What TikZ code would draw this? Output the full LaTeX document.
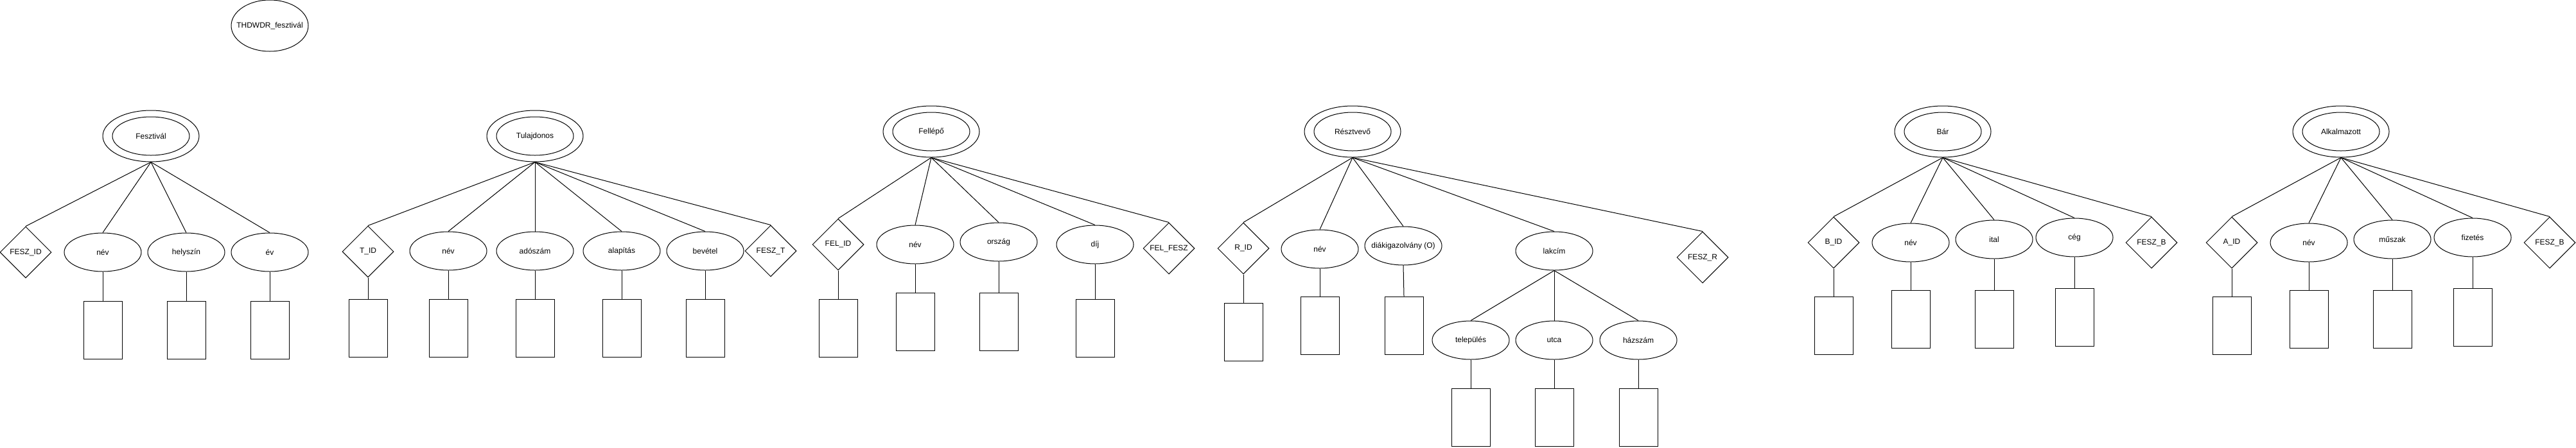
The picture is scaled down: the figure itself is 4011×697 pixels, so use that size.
\documentclass[tikz,border=0pt]{standalone}
\usepackage{fontspec}
\setmainfont{Liberation Sans}
\usetikzlibrary{shapes.geometric}
\tikzstyle{every path}=[line width=1pt]
\tikzstyle{every node}=[font=\fontsize{12}{14}\selectfont]
\tikzstyle{entity}=[draw, ellipse, minimum width=150pt, minimum height=80pt]
\tikzstyle{entityname}=[draw, ellipse, minimum width=120pt, minimum height=60pt, inner sep=0pt]
\tikzstyle{attribute}=[draw, ellipse, minimum width=120pt, minimum height=60pt, inner sep=0pt]
\tikzstyle{keyattr}=[draw, diamond, aspect=1, minimum width=80pt, minimum height=80pt, inner sep=0pt]
\tikzstyle{valuebox}=[draw, rectangle, minimum width=60pt, minimum height=90pt]

\begin{document}
\begin{tikzpicture}[x=1pt, y=-1pt]
            \useasboundingbox (0, 0) rectangle (4011, 697);
            \node[attribute, minimum height=80pt] (title) at (420, 40) {\makebox[0pt]{THDWDR\_fesztivál}};

            \node[entity] (fesztival) at (235, 212) {};
            \node[entityname] (fesztivalname) at (235, 212) {Fesztivál};
            \node[keyattr] (feszid) at (40, 393) {FESZ\_ID};
            \node[attribute] (fesznev) at (160, 393) {név};
            \node[attribute] (feszhely) at (290, 393) {helyszín};
            \node[attribute] (feszev) at (420, 393) {év};
            \node[valuebox] (fesznevbox) at (160, 514) {};
            \node[valuebox] (feszhelybox) at (290, 514) {};
            \node[valuebox] (feszevbox) at (420, 514) {};
            \draw (fesztival.south) -- (feszid.north);
            \draw (fesztival.south) -- (fesznev.north);
            \draw (fesztival.south) -- (feszhely.north);
            \draw (fesztival.south) -- (feszev.north);
            \draw (fesznev.south) -- (fesznevbox.north);
            \draw (feszhely.south) -- (feszhelybox.north);
            \draw (feszev.south) -- (feszevbox.north);

            \node[entity] (tulajdonos) at (833, 212) {};
            \node[entityname] (tulajdonosname) at (833, 212) {Tulajdonos};
            \node[keyattr] (tid) at (573, 392) {T\_ID};
            \node[attribute] (tnev) at (698, 391) {név};
            \node[attribute] (tado) at (833, 391) {adószám};
            \node[attribute] (talap) at (968, 391) {alapítás};
            \node[attribute] (tbev) at (1098, 391) {bevétel};
            \node[keyattr] (tfesz) at (1200, 391) {FESZ\_T};
            \node[valuebox] (tidbox) at (573, 511) {};
            \node[valuebox] (tnevbox) at (698, 511) {};
            \node[valuebox] (tadobox) at (833, 511) {};
            \node[valuebox] (talapbox) at (968, 511) {};
            \node[valuebox] (tbevbox) at (1098, 511) {};
            \draw (tulajdonos.south) -- (tid.north);
            \draw (tulajdonos.south) -- (tnev.north);
            \draw (tulajdonos.south) -- (tado.north);
            \draw (tulajdonos.south) -- (talap.north);
            \draw (tulajdonos.south) -- (tbev.north);
            \draw (tulajdonos.south) -- (tfesz.north);
            \draw (tid.south) -- (tidbox.north);
            \draw (tnev.south) -- (tnevbox.north);
            \draw (tado.south) -- (tadobox.north);
            \draw (talap.south) -- (talapbox.north);
            \draw (tbev.south) -- (tbevbox.north);

            \node[entity] (fellepo) at (1450, 205) {};
            \node[entityname] (felleponame) at (1450, 205) {Fellépő};
            \node[keyattr] (felid) at (1305, 381) {FEL\_ID};
            \node[attribute] (felnev) at (1425, 381) {név};
            \node[attribute] (felorszag) at (1555, 377) {ország};
            \node[attribute] (feldij) at (1705, 381) {díj};
            \node[keyattr] (felfesz) at (1820, 387) {FEL\_FESZ};
            \node[valuebox] (felidbox) at (1305, 511) {};
            \node[valuebox] (felnevbox) at (1425, 501) {};
            \node[valuebox] (felorszagbox) at (1555, 501) {};
            \node[valuebox] (feldijbox) at (1705, 511) {};
            \draw (fellepo.south) -- (felid.north);
            \draw (fellepo.south) -- (felnev.north);
            \draw (fellepo.south) -- (felorszag.north);
            \draw (fellepo.south) -- (feldij.north);
            \draw (fellepo.south) -- (felfesz.north);
            \draw (felid.south) -- (felidbox.north);
            \draw (felnev.south) -- (felnevbox.north);
            \draw (felorszag.south) -- (felorszagbox.north);
            \draw (feldij.south) -- (feldijbox.north);

            \node[entity] (resztvevo) at (2106, 205) {};
            \node[entityname] (resztvevoname) at (2106, 205) {Résztvevő};
            \node[keyattr] (rid) at (1936, 387) {R\_ID};
            \node[attribute] (rnev) at (2055, 388) {név};
            \node[attribute] (rdiak) at (2185, 383) {\makebox[0pt]{diákigazolvány (O)}};
            \node[attribute] (rlak) at (2420, 391) {lakcím};
            \node[keyattr] (rfesz) at (2651, 401) {FESZ\_R};
            \node[attribute] (rtel) at (2290, 530) {település};
            \node[attribute] (rutca) at (2420, 530) {utca};
            \node[attribute] (rhaz) at (2551, 530) {házszám};
            \node[valuebox] (ridbox) at (1936, 517) {};
            \node[valuebox] (rnevbox) at (2055, 507) {};
            \node[valuebox] (rdiakbox) at (2186, 507) {};
            \node[valuebox] (rtelbox) at (2290, 650) {};
            \node[valuebox] (rutcabox) at (2420, 650) {};
            \node[valuebox] (rhazbox) at (2551, 650) {};
            \draw (resztvevo.south) -- (rid.north);
            \draw (resztvevo.south) -- (rnev.north);
            \draw (resztvevo.south) -- (rdiak.north);
            \draw (resztvevo.south) -- (rlak.north);
            \draw (resztvevo.south) -- (rfesz.north);
            \draw (rlak.south) -- (rtel.north);
            \draw (rlak.south) -- (rutca.north);
            \draw (rlak.south) -- (rhaz.north);
            \draw (rid.south) -- (ridbox.north);
            \draw (rnev.south) -- (rnevbox.north);
            \draw (rdiak.south) -- (rdiakbox.north);
            \draw (rtel.south) -- (rtelbox.north);
            \draw (rutca.south) -- (rutcabox.north);
            \draw (rhaz.south) -- (rhazbox.north);

            \node[entity] (bar) at (3025, 205) {};
            \node[entityname] (barname) at (3025, 205) {Bár};
            \node[keyattr] (bid) at (2855, 378) {B\_ID};
            \node[attribute] (bnev) at (2975, 378) {név};
            \node[attribute] (bital) at (3105, 373) {ital};
            \node[attribute] (bceg) at (3230, 370) {cég};
            \node[keyattr] (bfesz) at (3350, 378) {FESZ\_B};
            \node[valuebox] (bidbox) at (2855, 507) {};
            \node[valuebox] (bnevbox) at (2975, 497) {};
            \node[valuebox] (bitalbox) at (3105, 497) {};
            \node[valuebox] (bcegbox) at (3230, 494) {};
            \draw (bar.south) -- (bid.north);
            \draw (bar.south) -- (bnev.north);
            \draw (bar.south) -- (bital.north);
            \draw (bar.south) -- (bceg.north);
            \draw (bar.south) -- (bfesz.north);
            \draw (bid.south) -- (bidbox.north);
            \draw (bnev.south) -- (bnevbox.north);
            \draw (bital.south) -- (bitalbox.north);
            \draw (bceg.south) -- (bcegbox.north);

            \node[entity] (alkalmazott) at (3645, 205) {};
            \node[entityname] (alkalmazottname) at (3645, 205) {Alkalmazott};
            \node[keyattr] (aid) at (3475, 378) {A\_ID};
            \node[attribute] (anev) at (3595, 378) {név};
            \node[attribute] (amusz) at (3725, 373) {műszak};
            \node[attribute] (afiz) at (3850, 370) {fizetés};
            \node[keyattr] (afesz) at (3970, 378) {FESZ\_B};
            \node[valuebox] (aidbox) at (3475, 507) {};
            \node[valuebox] (anevbox) at (3595, 497) {};
            \node[valuebox] (amuszbox) at (3725, 497) {};
            \node[valuebox] (afizbox) at (3850, 494) {};
            \draw (alkalmazott.south) -- (aid.north);
            \draw (alkalmazott.south) -- (anev.north);
            \draw (alkalmazott.south) -- (amusz.north);
            \draw (alkalmazott.south) -- (afiz.north);
            \draw (alkalmazott.south) -- (afesz.north);
            \draw (aid.south) -- (aidbox.north);
            \draw (anev.south) -- (anevbox.north);
            \draw (amusz.south) -- (amuszbox.north);
            \draw (afiz.south) -- (afizbox.north);
\end{tikzpicture}
\end{document}
